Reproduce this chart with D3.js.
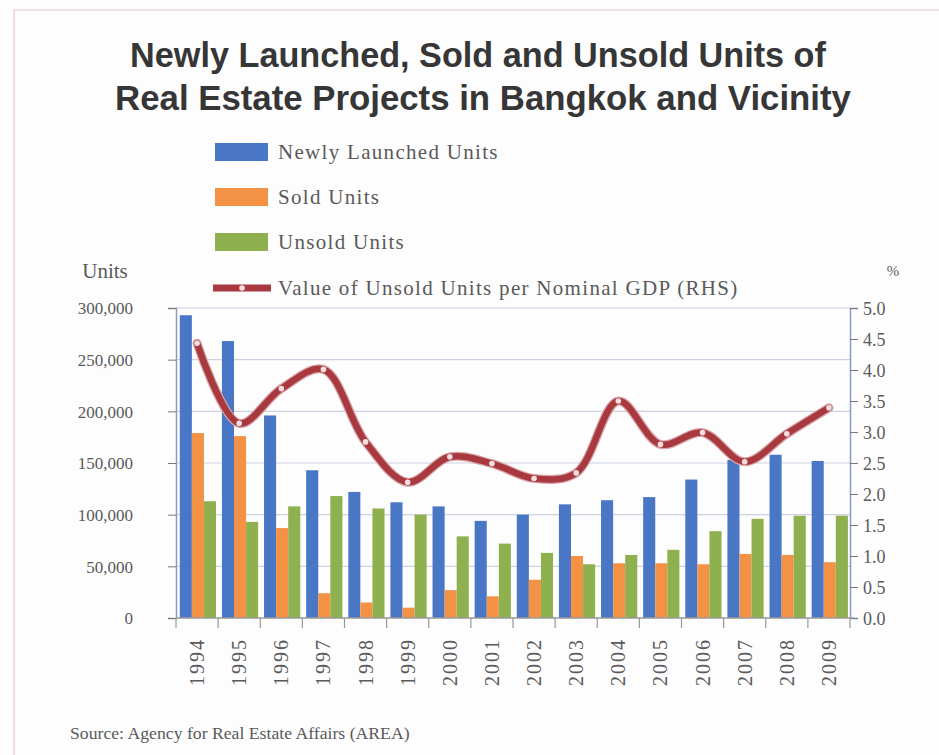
<!DOCTYPE html>
<html><head><meta charset="utf-8">
<script src="https://cdn.jsdelivr.net/npm/d3@7"></script>
<style>
body{margin:0;background:#fff;}
svg{display:block;}
</style></head>
<body>
<svg id="c" width="939" height="755"></svg>
<script>
const years = ["1994","1995","1996","1997","1998","1999","2000","2001","2002","2003","2004","2005","2006","2007","2008","2009"];
const newlyLaunched = [293000,268000,196000,143000,122000,112000,108000,94000,100000,110000,114000,117000,134000,153000,158000,152000];
const soldUnits     = [179000,176000,87000,24000,15000,10000,27000,21000,37000,60000,53000,53000,52000,62000,61000,54000];
const unsoldUnits   = [113000,93000,108000,118000,106000,100000,79000,72000,63000,52000,61000,66000,84000,96000,99000,99000];
const unsoldPerGDP  = [4.43,3.14,3.70,4.01,2.84,2.19,2.60,2.49,2.25,2.34,3.50,2.80,2.99,2.52,2.97,3.39];
const leftTicks  = [0,50000,100000,150000,200000,250000,300000];
const rightTicks = [0,0.5,1,1.5,2,2.5,3,3.5,4,4.5,5];
const seriesNames = ["Newly Launched Units","Sold Units","Unsold Units","Value of Unsold Units per Nominal GDP (RHS)"];
const titleLines = ["Newly Launched, Sold and Unsold Units of","Real Estate Projects in Bangkok and Vicinity"];
const sourceText = "Source: Agency for Real Estate Affairs (AREA)";

const colors = ["#4a76c6","#f39245","#8fb04f"];
const lineColor = "#a7393f";
const serif = "'Liberation Serif','DejaVu Serif',serif";
const textGray = "#5a5a5a";

const svg = d3.select("#c");
svg.append("rect").attr("width",939).attr("height",755).attr("fill","#fdfdfe");
svg.append("rect").attr("x",14).attr("y",10).attr("width",940).attr("height",760)
  .attr("fill","none").attr("stroke","#efd2d6").attr("stroke-width",1.5);

const L=176,R=850,T=308,B=618;
const x = d3.scaleBand().domain(years).range([L,R]);
const bw = x.bandwidth();
const xs = d3.scaleBand().domain([0,1,2]).range([bw*0.09,bw*0.95]);
const y = d3.scaleLinear().domain([0,300000]).range([B,T]);
const y2 = d3.scaleLinear().domain([0,5]).range([B,T]);

function fit(sel, target){
  const n = sel.node();
  const w = n.getComputedTextLength();
  const fs = parseFloat(sel.attr("font-size"));
  sel.attr("font-size", (fs*target/w).toFixed(2));
}

// Title
const t1 = svg.append("text").attr("x",478).attr("y",67).attr("text-anchor","middle")
  .attr("font-family","'Liberation Sans',Arial,sans-serif").attr("font-weight","bold")
  .attr("font-size",28).attr("fill","#363636").text(titleLines[0]);
fit(t1,696);
const t2 = svg.append("text").attr("x",483).attr("y",110).attr("text-anchor","middle")
  .attr("font-family","'Liberation Sans',Arial,sans-serif").attr("font-weight","bold")
  .attr("font-size",28).attr("fill","#363636").text(titleLines[1]);
fit(t2,736);

// gridlines
svg.append("g").selectAll("line").data(leftTicks.slice(1)).join("line")
  .attr("x1",L).attr("x2",R).attr("y1",d=>y(d)).attr("y2",d=>y(d))
  .attr("stroke","#cdd2e3").attr("stroke-width",1.2);

// bars
const seriesData = [newlyLaunched, soldUnits, unsoldUnits];
seriesData.forEach((arr,si)=>{
  svg.append("g").selectAll("rect").data(arr).join("rect")
    .attr("x",(d,i)=>x(years[i])+xs(si)).attr("width",xs.bandwidth())
    .attr("y",d=>y(d)).attr("height",d=>B-y(d)).attr("fill",colors[si]);
});

// left axis
const ax = d3.axisLeft(y).tickValues(leftTicks).tickSize(8).tickFormat(d3.format(","));
const gL = svg.append("g").attr("transform",`translate(${L},0)`).call(ax);
gL.select(".domain").attr("stroke","#8d9ac4").attr("stroke-width",1.5);
gL.selectAll(".tick line").attr("stroke","#777");
gL.selectAll(".tick text").attr("font-family",serif).attr("font-size",17).attr("fill",textGray).attr("x",-43).attr("dy","0.35em");

// right axis
const ar = d3.axisRight(y2).tickValues(rightTicks).tickSize(8).tickFormat(d3.format(".1f"));
const gR = svg.append("g").attr("transform",`translate(${R},0)`).call(ar);
gR.select(".domain").attr("stroke","#8d9ac4").attr("stroke-width",1.5);
gR.selectAll(".tick line").attr("stroke","#777");
gR.selectAll(".tick text").attr("font-family",serif).attr("font-size",18).attr("fill",textGray).attr("x",13).attr("dy","0.35em");

// x axis
const gX = svg.append("g").attr("transform",`translate(0,${B})`);
gX.append("line").attr("x1",L).attr("x2",R+4).attr("stroke","#999").attr("stroke-width",1.5);
gX.selectAll("line.tk").data(years.concat(["end"])).join("line").attr("class","tk")
  .attr("x1",(d,i)=>L+i*bw).attr("x2",(d,i)=>L+i*bw).attr("y1",0).attr("y2",10)
  .attr("stroke","#999").attr("stroke-width",1.2);
gX.selectAll("text").data(years).join("text")
  .attr("transform",d=>`translate(${x(d)+bw/2+7},20) rotate(-90)`)
  .attr("text-anchor","end").attr("font-family",serif).attr("font-size",20)
  .attr("letter-spacing",2).attr("fill",textGray)
  .text(d=>d);

// line
const pts = unsoldPerGDP.map((v,i)=>[x(years[i])+bw/2, y2(v)]);
const lineGen = d3.line().curve(d3.curveCatmullRom.alpha(0.5));
svg.append("path").attr("d",lineGen(pts)).attr("fill","none")
  .attr("stroke","#d9a5a9").attr("stroke-width",9).attr("stroke-linecap","round");
svg.append("path").attr("d",lineGen(pts)).attr("fill","none")
  .attr("stroke",lineColor).attr("stroke-width",6.5).attr("stroke-linecap","round");
svg.append("g").selectAll("circle").data(pts).join("circle")
  .attr("cx",d=>d[0]).attr("cy",d=>d[1]).attr("r",2.8).attr("fill","#f4dfe0");

// axis titles
svg.append("text").attr("x",105).attr("y",278).attr("text-anchor","middle")
  .attr("font-family",serif).attr("font-size",21).attr("fill",textGray).text("Units");
svg.append("text").attr("x",893).attr("y",276).attr("text-anchor","middle")
  .attr("font-family",serif).attr("font-size",15).attr("fill",textGray).text("%");

// legend
const legY = [152,197,242,288];
seriesNames.forEach((nm,i)=>{
  if(i<3){
    svg.append("rect").attr("x",215).attr("y",legY[i]-9).attr("width",53).attr("height",18).attr("fill",colors[i]);
  } else {
    svg.append("line").attr("x1",213).attr("x2",271).attr("y1",legY[i]).attr("y2",legY[i])
      .attr("stroke",lineColor).attr("stroke-width",7);
    svg.append("circle").attr("cx",242).attr("cy",legY[i]).attr("r",2.8).attr("fill","#f4dfe0");
  }
  svg.append("text").attr("x",278).attr("y",legY[i]+7)
    .attr("font-family",serif).attr("font-size",21).attr("letter-spacing",1.3)
    .attr("fill",textGray).text(nm);
});

// source
const st = svg.append("text").attr("x",70).attr("y",739).attr("font-family",serif)
  .attr("font-size",17).attr("fill",textGray).text(sourceText);
fit(st,340);
</script>
</body></html>
